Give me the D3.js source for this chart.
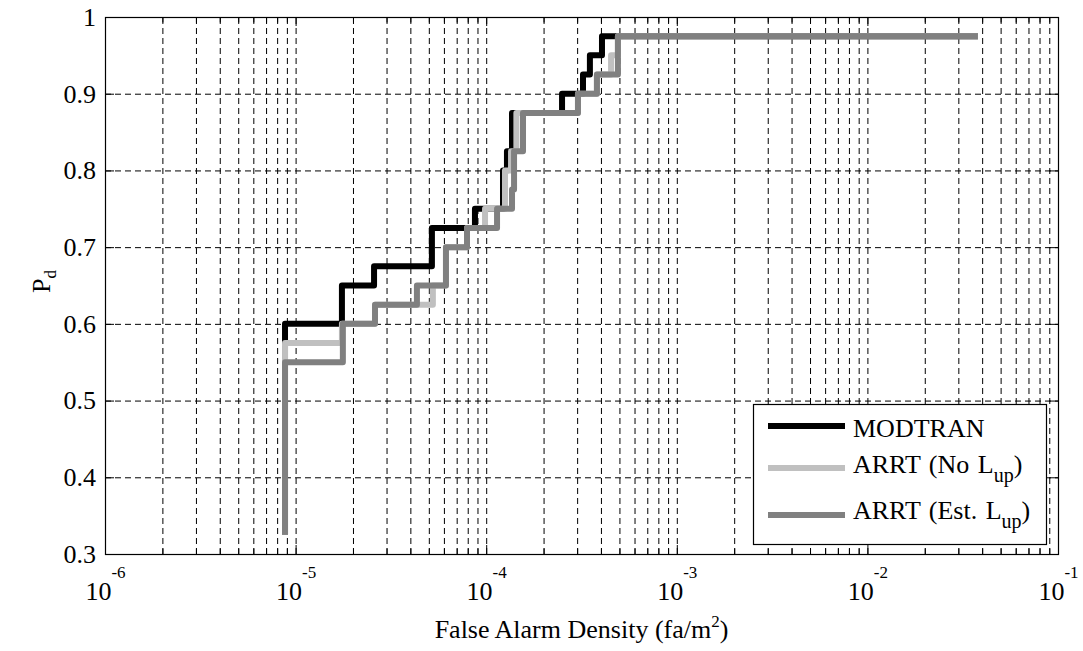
<!DOCTYPE html>
<html><head><meta charset="utf-8">
<script src="https://cdn.jsdelivr.net/npm/d3@7"></script>
<style>
body{margin:0;background:#fff}
svg{display:block}
text{font-family:"Liberation Serif","Times New Roman",serif;fill:#000}
</style>
</head><body>
<svg id="c" width="1083" height="651"></svg>
<script>
// ---- data ----
const xTickValues = [1e-6, 1e-5, 1e-4, 1e-3, 1e-2, 1e-1];
const xTickExponents = ["-6", "-5", "-4", "-3", "-2", "-1"];
const yTickValues = [0.3, 0.4, 0.5, 0.6, 0.7, 0.8, 0.9, 1];
const yTickLabels = ["0.3", "0.4", "0.5", "0.6", "0.7", "0.8", "0.9", "1"];

const seriesMain = ["MODTRAN", "ARRT (No L", "ARRT (Est. L"];
const seriesSub = ["", "up", "up"];
const seriesTail = ["", ")", ")"];
const seriesColors = ["#000000", "#c0c0c0", "#808080"];

// step points: false alarm density where the step starts, Pd level after
const modtranFA = [8.8e-6, 8.8e-6, 1.75e-5, 2.58e-5, 5.19e-5, 8.73e-5, 1.225e-4, 1.285e-4, 1.366e-4, 2.50e-4, 3.22e-4, 3.50e-4, 4.05e-4, 3.8e-2];
const modtranPd = [0.325, 0.6, 0.65, 0.675, 0.725, 0.75, 0.8, 0.825, 0.875, 0.9, 0.925, 0.95, 0.975, 0.975];

const noLupFA = [8.8e-6, 8.8e-6, 1.75e-5, 2.61e-5, 5.25e-5, 6.15e-5, 7.93e-5, 9.86e-5, 1.255e-4, 1.35e-4, 1.44e-4, 3.03e-4, 3.81e-4, 4.52e-4, 4.91e-4, 3.8e-2];
const noLupPd = [0.325, 0.575, 0.6, 0.625, 0.65, 0.7, 0.725, 0.75, 0.8, 0.825, 0.875, 0.9, 0.925, 0.95, 0.975, 0.975];

const estLupFA = [8.8e-6, 8.8e-6, 1.77e-5, 2.61e-5, 4.33e-5, 6.15e-5, 7.93e-5, 1.14e-4, 1.366e-4, 1.40e-4, 1.56e-4, 3.03e-4, 3.81e-4, 4.91e-4, 3.8e-2];
const estLupPd = [0.325, 0.55, 0.6, 0.625, 0.65, 0.7, 0.725, 0.75, 0.775, 0.825, 0.875, 0.9, 0.925, 0.975, 0.975];

// ---- layout ----
const L = 105, R = 1058, T = 17, B = 554;
const FS = 26;
const svg = d3.select("#c");
svg.append("rect").attr("width", 1083).attr("height", 651).attr("fill", "#fff");

const x = d3.scaleLog().domain([1e-6, 1e-1]).range([L, R]);
const y = d3.scaleLinear().domain([0.3, 1]).range([B, T]);

const xMinor = [];
for (let e = -6; e <= -2; e++) for (let k = 2; k <= 9; k++) xMinor.push(k * Math.pow(10, e));
const xGrid = xMinor.concat(xTickValues.slice(1, -1));
const yGrid = yTickValues.slice(1, -1);

// grid
svg.append("g").attr("transform", `translate(0,${B})`)
  .call(d3.axisBottom(x).tickValues(xGrid).tickSize(-(B - T)).tickSizeOuter(0).tickFormat(""))
  .call(g => g.select(".domain").remove())
  .selectAll("line").attr("stroke", "#000").attr("stroke-width", 1).attr("stroke-dasharray", "6,4");
svg.append("g").attr("transform", `translate(${L},0)`)
  .call(d3.axisLeft(y).tickValues(yGrid).tickSize(-(R - L)).tickSizeOuter(0).tickFormat(""))
  .call(g => g.select(".domain").remove())
  .selectAll("line").attr("stroke", "#000").attr("stroke-width", 1).attr("stroke-dasharray", "6,4");

// series
const line = d3.line().x(d => x(d[0])).y(d => y(d[1])).curve(d3.curveStepAfter);
const series = [
  d3.zip(modtranFA, modtranPd),
  d3.zip(noLupFA, noLupPd),
  d3.zip(estLupFA, estLupPd)
];
series.forEach((s, i) => {
  svg.append("path").attr("d", line(s)).attr("fill", "none")
    .attr("stroke", seriesColors[i]).attr("stroke-width", 6)
    .attr("stroke-linejoin", "round").attr("stroke-linecap", "butt");
});

// axes ticks
function styleAxis(g) {
  g.select(".domain").remove();
  g.selectAll("line").attr("stroke", "#000").attr("stroke-width", 1);
}
// bottom major with labels
const gxb = svg.append("g").attr("transform", `translate(0,${B})`)
  .call(d3.axisBottom(x).tickValues(xTickValues).tickSize(-9).tickSizeOuter(0).tickFormat(""))
  .call(styleAxis);
gxb.selectAll(".tick text").each(function(d, i) {
  const t = d3.select(this);
  t.text(null).attr("y", 46).attr("dy", null).attr("font-size", FS)
    .attr("font-family", "Liberation Serif").attr("fill", "#000");
  t.append("tspan").text("10");
  t.append("tspan").attr("font-size", 17).attr("dy", -22).text(xTickExponents[i]);
});
svg.append("g").attr("transform", `translate(0,${B})`)
  .call(d3.axisBottom(x).tickValues(xMinor).tickSize(-5.5).tickSizeOuter(0).tickFormat(""))
  .call(styleAxis);
// top
svg.append("g").attr("transform", `translate(0,${T})`)
  .call(d3.axisTop(x).tickValues(xTickValues).tickSize(-9).tickSizeOuter(0).tickFormat(""))
  .call(styleAxis);
svg.append("g").attr("transform", `translate(0,${T})`)
  .call(d3.axisTop(x).tickValues(xMinor).tickSize(-5.5).tickSizeOuter(0).tickFormat(""))
  .call(styleAxis);
// left
const gyl = svg.append("g").attr("transform", `translate(${L},0)`)
  .call(d3.axisLeft(y).tickValues(yTickValues).tickSize(-9).tickSizeOuter(0).tickPadding(9)
    .tickFormat((d, i) => yTickLabels[i]))
  .call(styleAxis);
gyl.selectAll(".tick text").attr("font-size", FS).attr("font-family", "Liberation Serif").attr("fill", "#000");
// right
svg.append("g").attr("transform", `translate(${R},0)`)
  .call(d3.axisRight(y).tickValues(yTickValues).tickSize(-9).tickSizeOuter(0).tickFormat(""))
  .call(styleAxis);

// box
svg.append("rect").attr("x", L + 0.5).attr("y", T + 0.5).attr("width", R - L).attr("height", B - T)
  .attr("fill", "none").attr("stroke", "#000").attr("stroke-width", 1.2);

// axis labels
const xl = svg.append("text").attr("x", (L + R) / 2).attr("y", 638)
  .attr("text-anchor", "middle").attr("font-size", FS);
xl.append("tspan").text("False Alarm Density (fa/m");
xl.append("tspan").attr("font-size", 17).attr("dy", -11).text("2");
xl.append("tspan").attr("dy", 11).text(")");

const yl = svg.append("text").attr("transform", `translate(50,${(T + B) / 2 - 4}) rotate(-90)`)
  .attr("text-anchor", "middle").attr("font-size", FS);
yl.append("tspan").text("P");
yl.append("tspan").attr("font-size", 17).attr("dy", 6).text("d");

// legend
const lg = svg.append("g");
lg.append("rect").attr("x", 753.5).attr("y", 404.5).attr("width", 293).attr("height", 140)
  .attr("fill", "#fff").attr("stroke", "#000").attr("stroke-width", 1.2);
const legY = [426, 468, 515];
const legBase = [437, 473, 519];
seriesMain.forEach((name, i) => {
  lg.append("line").attr("x1", 768).attr("x2", 845).attr("y1", legY[i]).attr("y2", legY[i])
    .attr("stroke", seriesColors[i]).attr("stroke-width", 6);
  const t = lg.append("text").attr("x", 853).attr("y", legBase[i]).attr("font-size", FS)
    .attr("word-spacing", 2);
  t.append("tspan").text(name);
  if (seriesSub[i]) {
    t.append("tspan").attr("font-size", 20).attr("dy", 9).text(seriesSub[i]);
    t.append("tspan").attr("dy", -9).text(seriesTail[i]);
  }
});
</script>
</body></html>
